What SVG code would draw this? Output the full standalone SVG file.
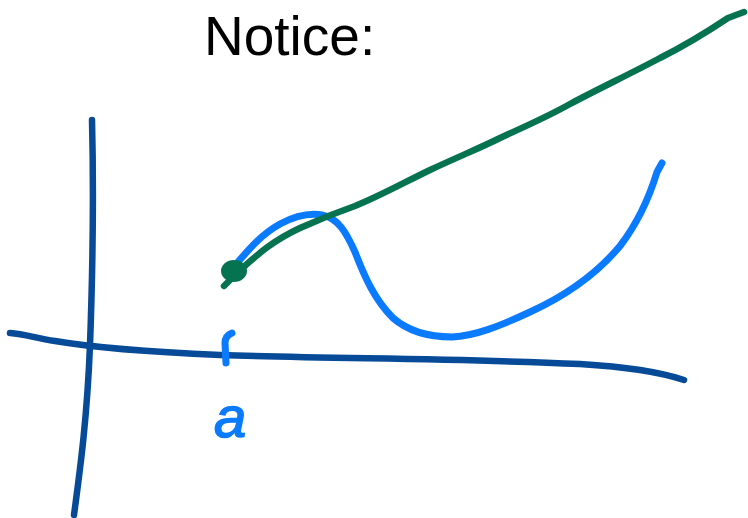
<svg xmlns="http://www.w3.org/2000/svg" width="748" height="518" viewBox="0 0 748 518">
<style>
.ax{fill:none;stroke:#064a98;stroke-width:6.5;stroke-linecap:round;stroke-linejoin:round}
.bl{fill:none;stroke:#0a7bff;stroke-width:7;stroke-linecap:round;stroke-linejoin:round}
.gr{fill:none;stroke:#067350;stroke-width:6.5;stroke-linecap:round;stroke-linejoin:round}
.title{font-family:"Liberation Sans",Arial,sans-serif;font-size:55px;fill:#000}
</style>
<rect width="748" height="518" fill="#fff"/>
<text class="title" x="204" y="55">Notice:</text>
<g id="axes">
<path class="ax" d="M92,120 C94,200 92,290 90,345 C87,420 80,470 74,515"/>
<path class="ax" d="M10,333 C25,334 35,338 55,341 C90,347 150,352 220,355 C330,359 450,358 580,364 C630,367 660,372 684,380"/>
</g>
<g id="curve">
<path class="bl" d="M238,262 C250,248 262,234 280,224 C295,216 310,213 322,215 C338,218 346,232 355,252 C365,278 375,300 393,318 C408,331 428,337 452,337 C475,336 500,326 530,312 C565,296 595,276 620,246 C640,220 650,195 657,172 L662,163"/>
</g>
<g id="tangent">
<path class="gr" d="M224,286 L238,272 C255,257 270,242 300,228 C320,219 335,213 355,206 C380,196 405,182 430,170 C460,156 480,148 500,138 C530,124 547,117 570,104 C600,88 630,74 660,58 C690,43 710,30 728,18 L744,12"/>
<ellipse cx="234" cy="271" rx="13" ry="11" fill="#067350"/>
</g>
<g id="label-a">
<path class="bl" d="M232,333 C227,335 225,338 225,343 L226,363"/>
<text x="214" y="437" font-family="Liberation Sans, sans-serif" font-style="italic" font-size="58" fill="#0a7bff" stroke="#0a7bff" stroke-width="1.5">a</text>
</g>
</svg>
